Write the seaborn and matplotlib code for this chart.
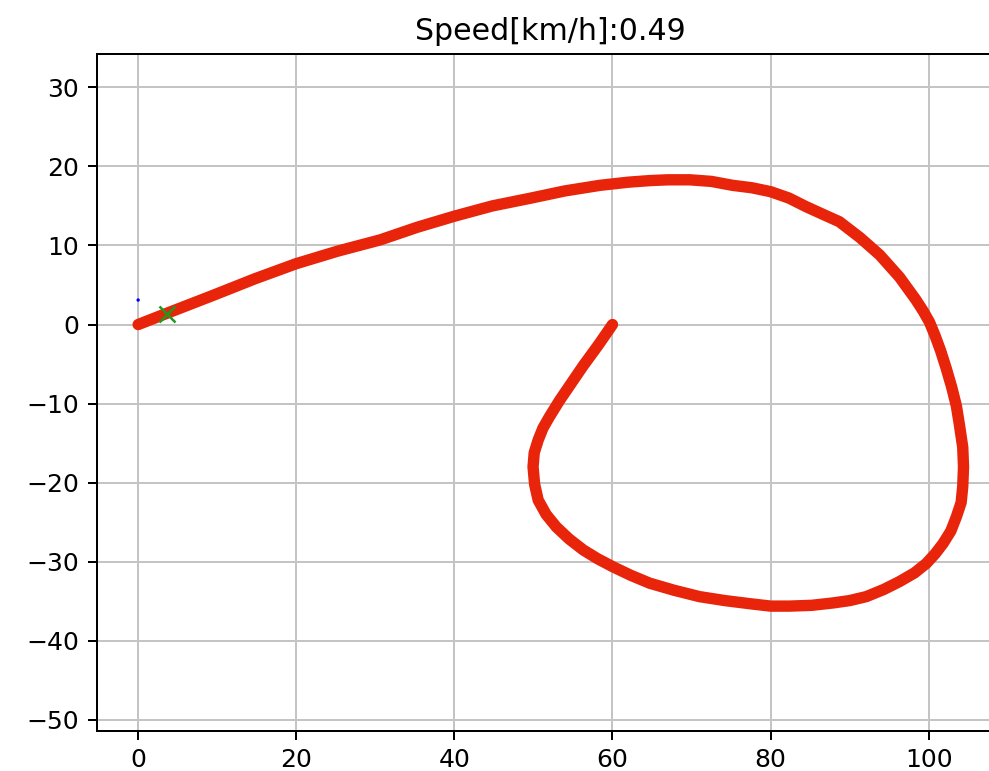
import matplotlib
matplotlib.use("Agg")
import matplotlib.pyplot as plt
import seaborn as sns
import pandas as pd

# Course traced by the vehicle (x [m], y [m])
course_x = [0.0, 3.7, 9.5, 14.8, 20.0, 25.3, 30.6, 35.3, 40.0, 44.8, 49.5, 54.0,
            58.4, 62.0, 64.7, 67.0, 69.8, 72.5, 75.2, 77.6, 80.0, 82.3, 84.5,
            86.7, 88.7, 91.3, 93.8, 96.3, 98.4, 99.3, 100.1, 100.8, 101.5, 102.2, 102.9,
            103.5, 103.9, 104.3, 104.4, 104.3, 104.1, 103.5, 102.8, 101.8, 100.8,
            99.7, 98.2, 96.3, 94.3, 92.1, 90.0, 87.9, 85.2, 82.4, 80.0, 77.4,
            74.2, 71.0, 67.8, 64.7, 62.3, 60.0, 58.1, 56.3, 54.5, 52.9, 51.6,
            50.6, 50.15, 49.95, 50.1, 50.6, 51.2, 52.0, 53.3, 54.8, 56.3, 58.2, 60.0]
course_y = [0.0, 1.45, 3.7, 5.8, 7.7, 9.3, 10.7, 12.3, 13.7, 15.0, 15.95, 16.9,
            17.6, 18.0, 18.2, 18.3, 18.3, 18.1, 17.6, 17.3, 16.8, 16.0, 14.9,
            13.9, 13.0, 11.0, 8.8, 6.0, 3.1, 1.7, 0.3, -1.4, -3.3, -5.5, -7.9,
            -10.3, -12.8, -15.5, -18.0, -20.5, -22.5, -24.3, -26.1, -27.7, -29.0,
            -30.2, -31.4, -32.5, -33.5, -34.4, -34.9, -35.2, -35.5, -35.6, -35.6, -35.3,
            -34.9, -34.4, -33.6, -32.7, -31.7, -30.6, -29.6, -28.5, -27.1, -25.6, -24.0,
            -22.2, -20.2, -18.0, -16.2, -14.6, -13.1, -11.7, -9.6, -7.4, -5.2, -2.6, 0.0]

# Current vehicle position and tracking target
vehicle_x = [0.0]
vehicle_y = [3.1]
target_x = [3.7]
target_y = [1.3]

speed_kmh = 0.49

x_ticks = [0, 20, 40, 60, 80, 100]
y_ticks = [-50, -40, -30, -20, -10, 0, 10, 20, 30]

sns.set_style("ticks", {
    "axes.edgecolor": "black",
    "axes.grid": True,
    "grid.color": "#c4c4c4",
    "xtick.color": "black",
    "ytick.color": "black",
    "text.color": "black",
})
plt.rcParams.update({
    "font.family": ["DejaVu Sans"],
    "text.color": "black",
    "axes.titlecolor": "black",
    "xtick.labelcolor": "black",
    "ytick.labelcolor": "black",
    "xtick.labelsize": 18,
    "ytick.labelsize": 18,
    "axes.linewidth": 1.44,
    "grid.linewidth": 1.44,
    "xtick.major.width": 1.44,
    "ytick.major.width": 1.44,
    "xtick.major.size": 6.3,
    "ytick.major.size": 6.3,
    "xtick.major.pad": 6.3,
    "ytick.major.pad": 6.3,
})

fig = plt.figure(figsize=(9.89, 7.71), dpi=100)
ax = fig.add_axes([0.0978, 0.0523, 0.9164, 0.8782])

course = pd.DataFrame({"x": course_x, "y": course_y})
sns.lineplot(data=course, x="x", y="y", sort=False, estimator=None, ax=ax,
             color="#e8240a", linewidth=8.2, solid_capstyle="round",
             solid_joinstyle="round", zorder=3)
sns.scatterplot(x=vehicle_x, y=vehicle_y, ax=ax, color="blue", s=6,
                edgecolor="none", zorder=4)
ax.plot(target_x, target_y, "x", color="#1f9a1f", markersize=11,
        markeredgewidth=1.8, zorder=5)

ax.set_xlim(-5.24, 109.4)
ax.set_ylim(-51.35, 34.26)
ax.set_xticks(x_ticks)
ax.set_yticks(y_ticks)
ax.set_xlabel("")
ax.set_ylabel("")
ax.grid(True, color="#c4c4c4", linewidth=1.44)
ax.set_axisbelow(True)
ax.set_title(f"Speed[km/h]:{speed_kmh:.2f}", fontsize=21.6, pad=10, color="black")

fig.savefig("out.png", dpi=100)
